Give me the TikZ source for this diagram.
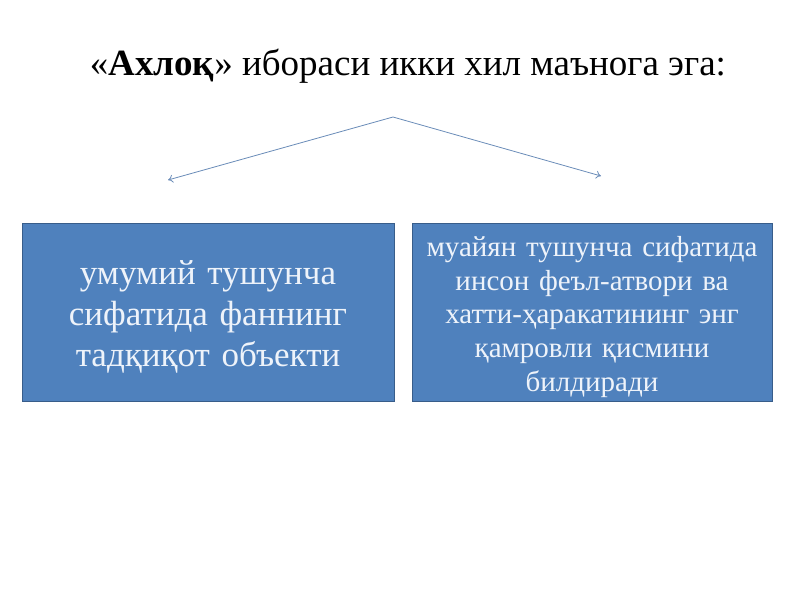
\documentclass[tikz,border=0pt]{standalone}
\usepackage{fontspec}
\setmainfont{Liberation Serif}
\usepackage{xcolor}
\usetikzlibrary{positioning,arrows.meta}
\definecolor{boxblue}{HTML}{4F81BD}
\definecolor{boxedge}{HTML}{385D8A}
\definecolor{arrowblue}{HTML}{6A8CB8}
\definecolor{boxtext}{HTML}{EEF3FA}

\begin{document}
\begin{tikzpicture}[
    x=1pt, y=-1pt,
    meaning/.style={rectangle, draw=boxedge, line width=1pt, fill=boxblue,
        minimum height=178pt, inner sep=0pt},
    meaning text/.style={text=boxtext, align=center, inner sep=0pt},
    branch/.style={draw=arrowblue, line width=0.8pt, -{To[length=5pt,width=8pt]}}
]
    \useasboundingbox (0,0) rectangle (800,600);
    % title
    \node[anchor=base, font=\fontsize{37}{42}\selectfont] (title) at (408,75)
        {«\textbf{Ахлоқ}» ибораси икки хил маънога эга:};
    % the two meanings
    \node[meaning, minimum width=372pt] (general) at (208,312) {};
    \node[meaning text, text width=360pt, font=\fontsize{35}{41}\selectfont]
        (generaltext) at ([yshift=-5pt]general.center)
        {умумий тушунча\\ сифатида фаннинг\\ тадқиқот объекти};
    \node[meaning, minimum width=360pt] (specific) at (592,312) {};
    \node[meaning text, text width=356pt, font=\fontsize{29}{33.7}\selectfont]
        (specifictext) at ([yshift=-5pt]specific.center)
        {муайян тушунча сифатида\\ инсон феъл-атвори ва\\ хатти-ҳаракатининг энг\\ қамровли қисмини\\ билдиради};
    % arrows
    \coordinate (apex) at (393,117);
    \coordinate (leftend) at (168,180);
    \coordinate (rightend) at (601,176);
    \draw[branch] (apex) -- (leftend);
    \draw[branch] (apex) -- (rightend);
\end{tikzpicture}
\end{document}
